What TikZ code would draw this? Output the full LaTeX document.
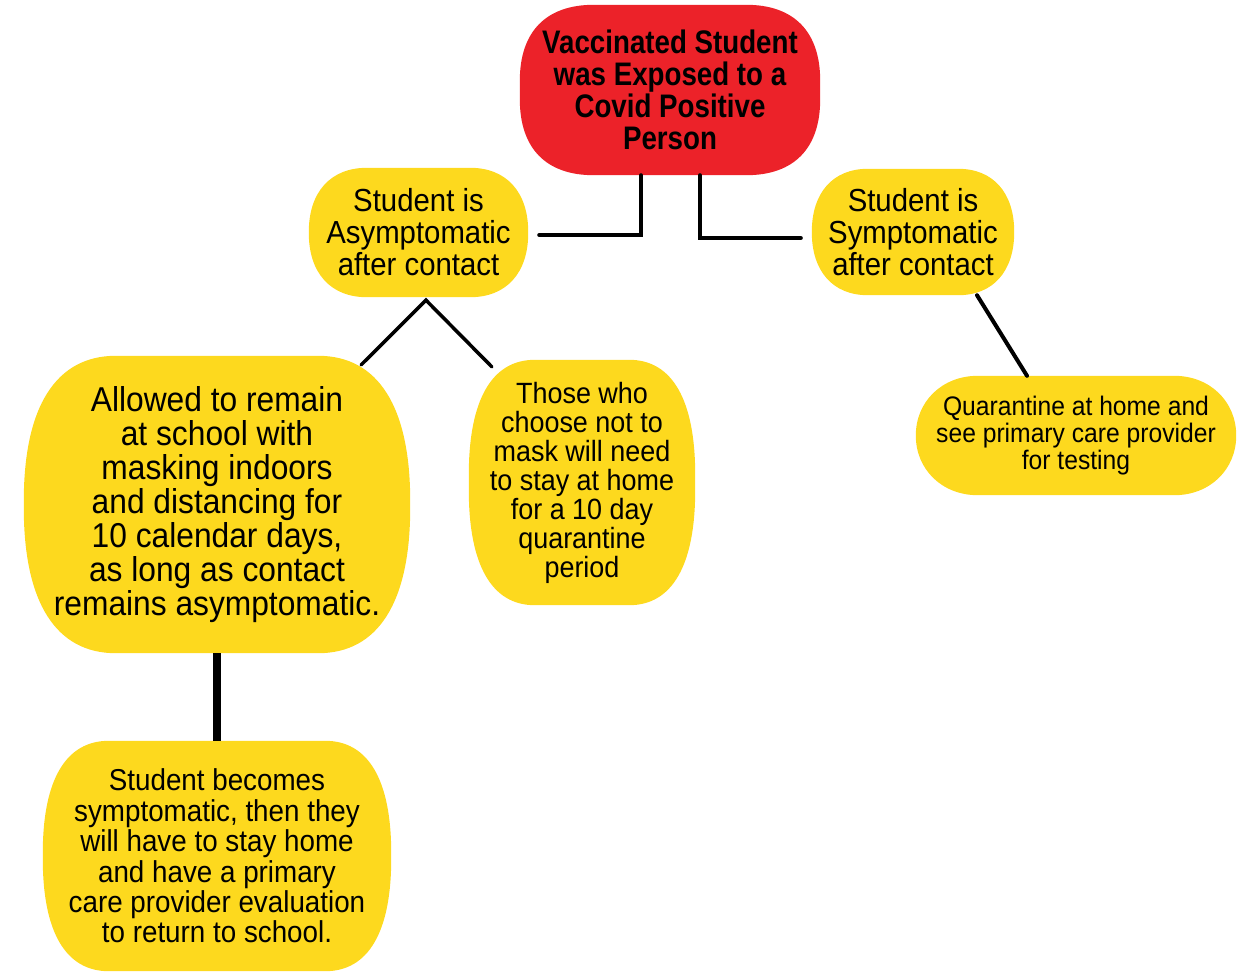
\documentclass[tikz,border=0pt]{standalone}
\usepackage{fontspec}
\usetikzlibrary{backgrounds}
\newfontfamily\cond[FakeStretch=0.92]{Liberation Sans}
\newfontfamily\condb[FakeStretch=0.85]{Liberation Sans}
\definecolor{boxred}{RGB}{236,34,41}
\definecolor{boxyellow}{RGB}{253,217,30}
\tikzset{
  base/.style={draw=none, align=center, inner sep=0pt, text=black},
  redbox/.style={draw=none, align=center, inner sep=0pt, text=black,
    font=\condb\bfseries\fontsize{32.6}{32}\selectfont},
  link/.style={draw=black, line width=4pt, line cap=round},
}
% #1 colour, #2 node, #3 corner extent x, #4 corner extent y, #5 control x, #6 control y (from corner)
\newcommand\softbox[6]{%
  \fill[#1] ([xshift=#3]#2.north west) -- ([xshift=-#3]#2.north east)
   .. controls ([xshift=-#5]#2.north east) and ([yshift=-#6]#2.north east) .. ([yshift=-#4]#2.north east)
   -- ([yshift=#4]#2.south east)
   .. controls ([yshift=#6]#2.south east) and ([xshift=-#5]#2.south east) .. ([xshift=-#3]#2.south east)
   -- ([xshift=#3]#2.south west)
   .. controls ([xshift=#5]#2.south west) and ([yshift=#6]#2.south west) .. ([yshift=#4]#2.south west)
   -- ([yshift=-#4]#2.north west)
   .. controls ([yshift=-#6]#2.north west) and ([xshift=#5]#2.north west) .. cycle;}
\begin{document}
\begin{tikzpicture}[x=1pt,y=-1pt]
\useasboundingbox (0,0) rectangle (1246,972);

\node[redbox, minimum width=300pt, minimum height=170pt] (red) at (670,90)
  {Vaccinated Student\\was Exposed to a\\Covid Positive\\Person};

\node[base, minimum width=219pt, minimum height=129pt,
  font=\cond\fontsize{31.9}{32}\selectfont] (asym) at (418.5,232.5)
  {Student is\\Asymptomatic\\after contact};

\node[base, minimum width=202pt, minimum height=126pt,
  font=\cond\fontsize{31.9}{32}\selectfont] (sym) at (913,232)
  {Student is\\Symptomatic\\after contact};

\node[base, minimum width=320pt, minimum height=119pt,
  font=\cond\fontsize{26.8}{27}\selectfont] (quar) at (1076,435.5)
  {Quarantine at home and\\see primary care provider\\for testing};

\node[base, minimum width=386pt, minimum height=297pt,
  font=\cond\fontsize{34.5}{34}\selectfont] (allowed) at (217,504.5)
  {Allowed to remain\\at school with\\masking indoors\\and distancing for\\10 calendar days,\\as long as contact\\remains asymptomatic.};

\node[base, minimum width=226pt, minimum height=245pt,
  font=\cond\fontsize{29.3}{29}\selectfont] (those) at (582,482.5)
  {Those who\\choose not to\\mask will need\\to stay at home\\for a 10 day\\quarantine\\period};

\node[base, minimum width=348pt, minimum height=230pt,
  font=\cond\fontsize{30.2}{30.4}\selectfont] (becomes) at (217,856)
  {Student becomes\\symptomatic, then they\\will have to stay home\\and have a primary\\care provider evaluation\\to return to school.};

\begin{scope}[on background layer]
  \softbox{boxred}{red}{74pt}{76pt}{26pt}{27pt}
  \softbox{boxyellow}{asym}{58pt}{64pt}{22pt}{24pt}
  \softbox{boxyellow}{sym}{56pt}{63pt}{21pt}{24pt}
  \softbox{boxyellow}{quar}{62pt}{59.5pt}{26pt}{26pt}
  \softbox{boxyellow}{allowed}{92pt}{145pt}{32pt}{51pt}
  \softbox{boxyellow}{those}{66pt}{115pt}{23pt}{40pt}
  \softbox{boxyellow}{becomes}{66pt}{112pt}{23pt}{39pt}
\end{scope}

% connectors
\draw[link] ([xshift=-29pt]red.south) |- ([xshift=11pt,yshift=-2.5pt]asym.east);
\draw[link] ([xshift=30pt]red.south) |- ([xshift=-11pt,yshift=-6pt]sym.west);
\coordinate (peak) at ([xshift=7.5pt,yshift=-3pt]asym.south);
\draw[link, line width=3.5pt] ([xshift=-49pt,yshift=-9pt]allowed.north east) -- (peak)
  -- ([xshift=23pt,yshift=-7pt]those.north west);
\draw[link] ([xshift=64pt]sym.south) -- ([xshift=-49pt]quar.north);
\draw[draw=black, line width=8pt] (allowed.south) -- (becomes.north);
\end{tikzpicture}
\end{document}
